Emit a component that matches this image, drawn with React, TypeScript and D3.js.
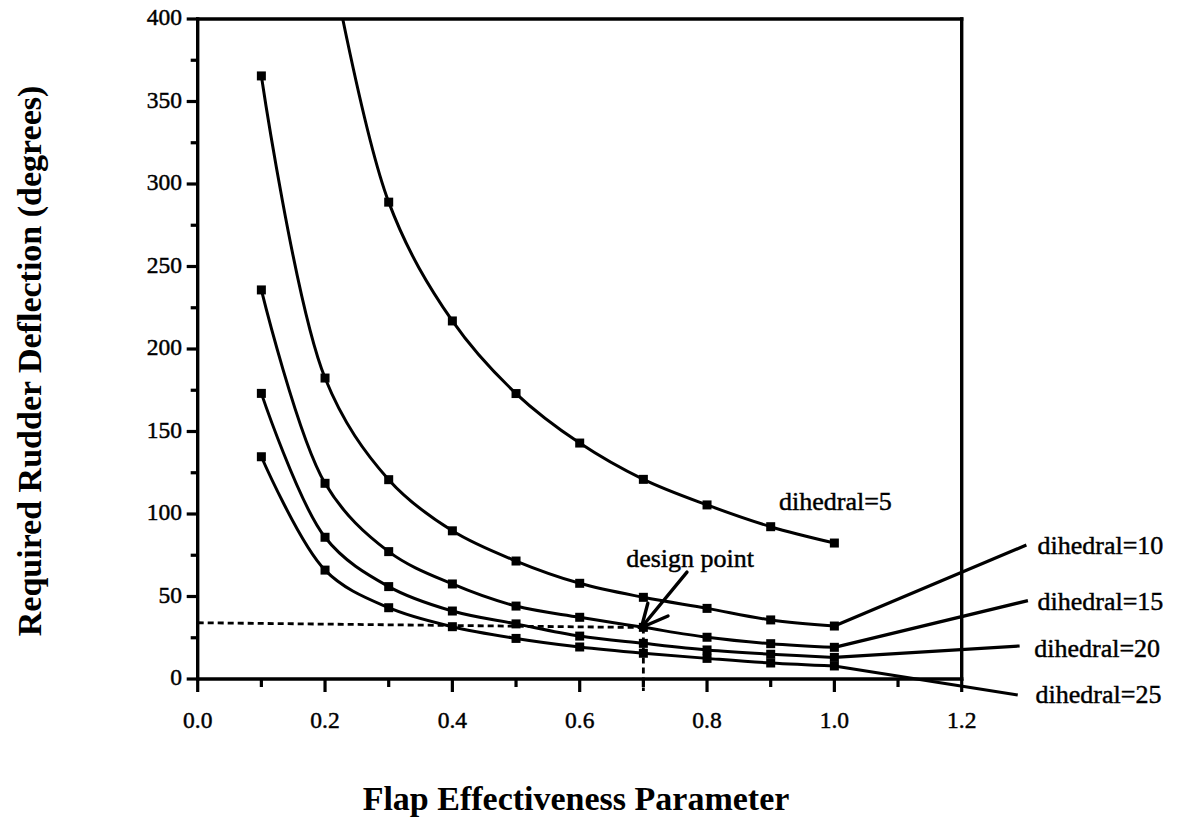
import React from "react";
import * as d3 from "d3";

// ---- data ----
const flapX = [0.1, 0.2, 0.3, 0.4, 0.5, 0.6, 0.7, 0.8, 0.9, 1.0];
const dihedral5 = [null, 455, 289, 217, 173, 143, 121, 105.5, 92.3, 82.4];
const dihedral10 = [365.5, 182.4, 120.8, 89.8, 71.5, 58, 49.5, 42.8, 35.8, 32.1];
const dihedral15 = [235.8, 118.6, 77.2, 57.6, 44.2, 37.4, 31.3, 25.3, 21.4, 19.2];
const dihedral20 = [173.1, 85.9, 56, 41.2, 33.4, 26, 21.6, 17.6, 15, 13.1];
const dihedral25 = [134.7, 66, 43.2, 31.7, 24.6, 19.4, 15.6, 12.5, 9.7, 7.9];
const seriesNames = ["dihedral=5", "dihedral=10", "dihedral=15", "dihedral=20", "dihedral=25"];

const xTickValues = [0, 0.1, 0.2, 0.3, 0.4, 0.5, 0.6, 0.7, 0.8, 0.9, 1.0, 1.1, 1.2];
const xTickLabels = ["0.0", "", "0.2", "", "0.4", "", "0.6", "", "0.8", "", "1.0", "", "1.2"];
const yTickValues = [0, 25, 50, 75, 100, 125, 150, 175, 200, 225, 250, 275, 300, 325, 350, 375, 400];
const yTickLabels = ["0", "", "50", "", "100", "", "150", "", "200", "", "250", "", "300", "", "350", "", "400"];

// leader-line ends (data units) for the right-hand labels of dihedral 10..25
const leaderEndX = [1.3016, 1.304, 1.291, 1.288];
const leaderEndY = [81.2, 47.5, 20, -9.7];
const leaderLabelX = [1.319, 1.319, 1.314, 1.316];
const leaderLabelY = [75.8, 41.8, 13.5, -14.5];

// design point annotation (data units)
const designPoint = [0.6969, 31.2];
const designArrowStart = [0.7685, 64.8];
const designBarbs = [[0.707, 45.9], [0.7387, 38.2]];
const designGuideStartY = 34.1;
const designLabel = { text: "design point", x: 0.673, y: 68 };
const d5Label = { x: 0.913, y: 102.4 };

const W = 1185;
const H = 820;

export default function App() {
  const x = d3.scaleLinear().domain([0, 1.2]).range([197.7, 961.7]);
  const y = d3.scaleLinear().domain([0, 400]).range([679, 19]);

  const all = [dihedral5, dihedral10, dihedral15, dihedral20, dihedral25];
  const line = d3
    .line<[number, number | null]>()
    .defined((d) => d[1] != null)
    .x((d) => x(d[0]))
    .y((d) => y(d[1] as number))
    .curve(d3.curveCatmullRom.alpha(0.5));

  const font = "'Liberation Serif', 'Times New Roman', serif";
  const [x0, x1] = x.range();
  const [yb, yt] = y.range();
  const ms = 9;
  const heavy = { stroke: "#000", strokeWidth: 0.45 };

  return (
    <div style={{ position: "absolute", left: 0, top: 0, width: W, height: H, background: "#fff" }}>
      <svg width={W} height={H} style={{ display: "block" }}>
        <defs>
          <clipPath id="plotClip">
            <rect x={x0 - 6} y={yt} width={x1 - x0 + 12} height={yb - yt + 6} />
          </clipPath>
        </defs>
        <rect x={0} y={0} width={W} height={H} fill="#fff" />

        {/* frame */}
        <g stroke="#000" strokeWidth={3.4} fill="none" strokeLinecap="square">
          <line x1={x0} y1={yt} x2={x0} y2={yb} />
          <line x1={x0} y1={yt} x2={x1} y2={yt} />
          <line x1={x1} y1={yt} x2={x1} y2={yb} />
          <line x1={x0} y1={yb} x2={x1} y2={yb} />
        </g>

        {/* x ticks */}
        <g>
          {xTickValues.map((v, i) => (
            <g key={"xt" + i}>
              <line
                x1={x(v)}
                x2={x(v)}
                y1={yb}
                y2={yb + (xTickLabels[i] ? 13 : 8)}
                stroke="#000"
                strokeWidth={3.2}
              />
              {xTickLabels[i] && (
                <text x={x(v)} y={728} textAnchor="middle" fontFamily={font} fontSize={23.5} fill="#000" {...heavy}>
                  {xTickLabels[i]}
                </text>
              )}
            </g>
          ))}
        </g>

        {/* y ticks */}
        <g>
          {yTickValues.map((v, i) => (
            <g key={"yt" + i}>
              <line
                x1={x0}
                x2={x0 - (yTickLabels[i] ? 11 : 7)}
                y1={y(v)}
                y2={y(v)}
                stroke="#000"
                strokeWidth={3.2}
              />
              {yTickLabels[i] && (
                <text x={182} y={y(v) + 6} textAnchor="end" fontFamily={font} fontSize={23.5} fill="#000" {...heavy}>
                  {yTickLabels[i]}
                </text>
              )}
            </g>
          ))}
        </g>

        {/* design point guides */}
        <g stroke="#000" strokeWidth={2.8} strokeDasharray="6,4" fill="none">
          <line x1={x(0)} y1={y(designGuideStartY)} x2={x(designPoint[0])} y2={y(designPoint[1])} />
          <line x1={x(0.7)} y1={y(designPoint[1])} x2={x(0.7)} y2={yb + 12} />
        </g>

        {/* curves */}
        <g clipPath="url(#plotClip)">
          {all.map((s, si) => (
            <path
              key={"c" + si}
              d={line(flapX.map((fx, i) => [fx, s[i]] as [number, number | null])) || ""}
              fill="none"
              stroke="#000"
              strokeWidth={3}
            />
          ))}
          {all.map((s, si) =>
            flapX.map((fx, i) =>
              s[i] == null ? null : (
                <rect
                  key={"m" + si + "-" + i}
                  x={x(fx) - ms / 2}
                  y={y(s[i] as number) - ms / 2}
                  width={ms}
                  height={ms}
                  fill="#000"
                />
              )
            )
          )}
        </g>

        {/* leader lines and labels */}
        <g>
          {leaderEndX.map((ex, i) => {
            const s = all[i + 1];
            const last = s[s.length - 1] as number;
            return (
              <g key={"ld" + i}>
                <line
                  x1={x(flapX[flapX.length - 1])}
                  y1={y(last)}
                  x2={x(ex)}
                  y2={y(leaderEndY[i])}
                  stroke="#000"
                  strokeWidth={3.2}
                />
                <text x={x(leaderLabelX[i])} y={y(leaderLabelY[i])} fontFamily={font} fontSize={26} fill="#000" {...heavy}>
                  {seriesNames[i + 1]}
                </text>
              </g>
            );
          })}
          <text x={x(d5Label.x)} y={y(d5Label.y)} fontFamily={font} fontSize={26} fill="#000" {...heavy}>
            {seriesNames[0]}
          </text>
        </g>

        {/* design point arrow */}
        <g stroke="#000" strokeWidth={3.4} fill="none" strokeLinecap="round">
          <line x1={x(designArrowStart[0])} y1={y(designArrowStart[1])} x2={x(designPoint[0])} y2={y(designPoint[1])} />
          {designBarbs.map((b, i) => (
            <line key={"b" + i} x1={x(designPoint[0])} y1={y(designPoint[1])} x2={x(b[0])} y2={y(b[1])} />
          ))}
        </g>
        <text x={x(designLabel.x)} y={y(designLabel.y)} fontFamily={font} fontSize={26} fill="#000" {...heavy}>
          {designLabel.text}
        </text>

        {/* axis titles */}
        <text
          transform={`translate(41, 361) rotate(-90)`}
          textAnchor="middle"
          fontFamily={font}
          fontWeight="bold"
          fontSize={34}
          fill="#000"
        >
          Required Rudder Deflection (degrees)
        </text>
        <text x={576} y={810} textAnchor="middle" fontFamily={font} fontWeight="bold" fontSize={34} fill="#000">
          Flap Effectiveness Parameter
        </text>
      </svg>
    </div>
  );
}
